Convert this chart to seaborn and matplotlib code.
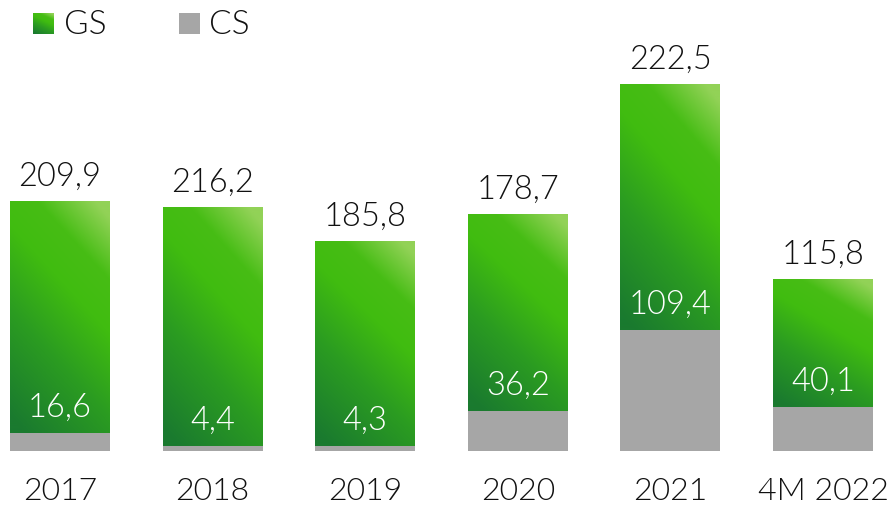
import numpy as np
import pandas as pd
import matplotlib
matplotlib.use("Agg")
import matplotlib.pyplot as plt
from matplotlib.colors import LinearSegmentedColormap
from matplotlib.patches import Rectangle
import seaborn as sns

# Data
years = ["2017", "2018", "2019", "2020", "2021", "4M 2022"]
gs_values = [209.9, 216.2, 185.8, 178.7, 222.5, 115.8]
cs_values = [16.6, 4.4, 4.3, 36.2, 109.4, 40.1]
legend_labels = ["GS", "CS"]

df = pd.DataFrame({"year": years, "GS": gs_values, "CS": cs_values})
df["total"] = df["GS"] + df["CS"]

sns.set_theme(style="white")
plt.rcParams["font.family"] = ["Lato", "DejaVu Sans"]

GRAY = "#a6a6a6"
TEXT = "#111111"
FW = 300
green_cmap = LinearSegmentedColormap.from_list(
    "gs_green",
    [(0.0, "#1a7a2f"), (0.35, "#2b9c21"), (0.62, "#40bc10"),
     (0.8, "#47bd15"), (1.0, "#92d257")],
)

W, H, DPI = 888, 507, 100
fig = plt.figure(figsize=(W / DPI, H / DPI), dpi=DPI)
base_px = 56
ax = fig.add_axes([0, base_px / H, 1, (H - base_px) / H])

bar_w = 0.655
sns.barplot(data=df, x="year", y="total", color="#3fbc11", saturation=1,
            width=bar_w, ax=ax, zorder=2, linewidth=0)
green_bars = list(ax.patches)
sns.barplot(data=df, x="year", y="CS", color=GRAY, saturation=1,
            width=bar_w, ax=ax, zorder=3, linewidth=0)


def gradient(n=200):
    u = np.linspace(0, 1, n)[None, :]
    v = np.linspace(0, 1, n)[:, None]
    return np.clip(0.75 * v + 0.35 * u - 0.05, 0, 1)


grad = gradient()
for i, p in enumerate(green_bars):
    x0, w = p.get_x(), p.get_width()
    y0 = df["CS"].iloc[i]
    y1 = df["total"].iloc[i]
    im = ax.imshow(grad, extent=(x0, x0 + w, y0, y1), origin="lower",
                   cmap=green_cmap, vmin=0, vmax=1, aspect="auto",
                   interpolation="bilinear", zorder=2.5)
    im.set_clip_path(p)

ax.set_xlim(-0.393, 5.426)
ax.set_ylim(0, (H - base_px) / 1.105)

# Value labels: GS above the stack, CS in white just above the gray part
for i in range(len(years)):
    ax.annotate(f"{gs_values[i]:.1f}".replace(".", ","),
                xy=(i, df["total"].iloc[i]), xytext=(0, 15),
                textcoords="offset pixels", ha="center", va="baseline",
                fontsize=23.5, fontweight=FW, color=TEXT, zorder=5)
    ax.annotate(f"{cs_values[i]:.1f}".replace(".", ","),
                xy=(i, cs_values[i]), xytext=(0, 16),
                textcoords="offset pixels", ha="center", va="baseline",
                fontsize=23.5, fontweight=FW, color="white", zorder=5)

ax.set_xlabel("")
ax.set_ylabel("")
ax.set_yticks([])
ax.tick_params(axis="x", length=0, pad=19, labelsize=23, labelcolor=TEXT)
for lbl in ax.get_xticklabels():
    lbl.set_fontweight(FW)
for s in ax.spines.values():
    s.set_visible(False)

# Legend
sq = 21
lax = fig.add_axes([33 / W, 1 - 34 / H, sq / W, sq / H])
lax.imshow(grad, origin="lower", cmap=green_cmap, vmin=0, vmax=1,
           aspect="auto", extent=(0, 1, 0, 1))
lax.axis("off")
fig.patches.append(Rectangle((179 / W, 1 - 34 / H), sq / W, sq / H,
                             transform=fig.transFigure, facecolor=GRAY,
                             edgecolor="none"))
fig.text(64 / W, 1 - 34 / H, legend_labels[0], fontsize=24, fontweight=FW,
         color=TEXT, va="baseline", ha="left")
fig.text(209 / W, 1 - 34 / H, legend_labels[1], fontsize=24, fontweight=FW,
         color=TEXT, va="baseline", ha="left")

fig.savefig("out.png", dpi=DPI)
